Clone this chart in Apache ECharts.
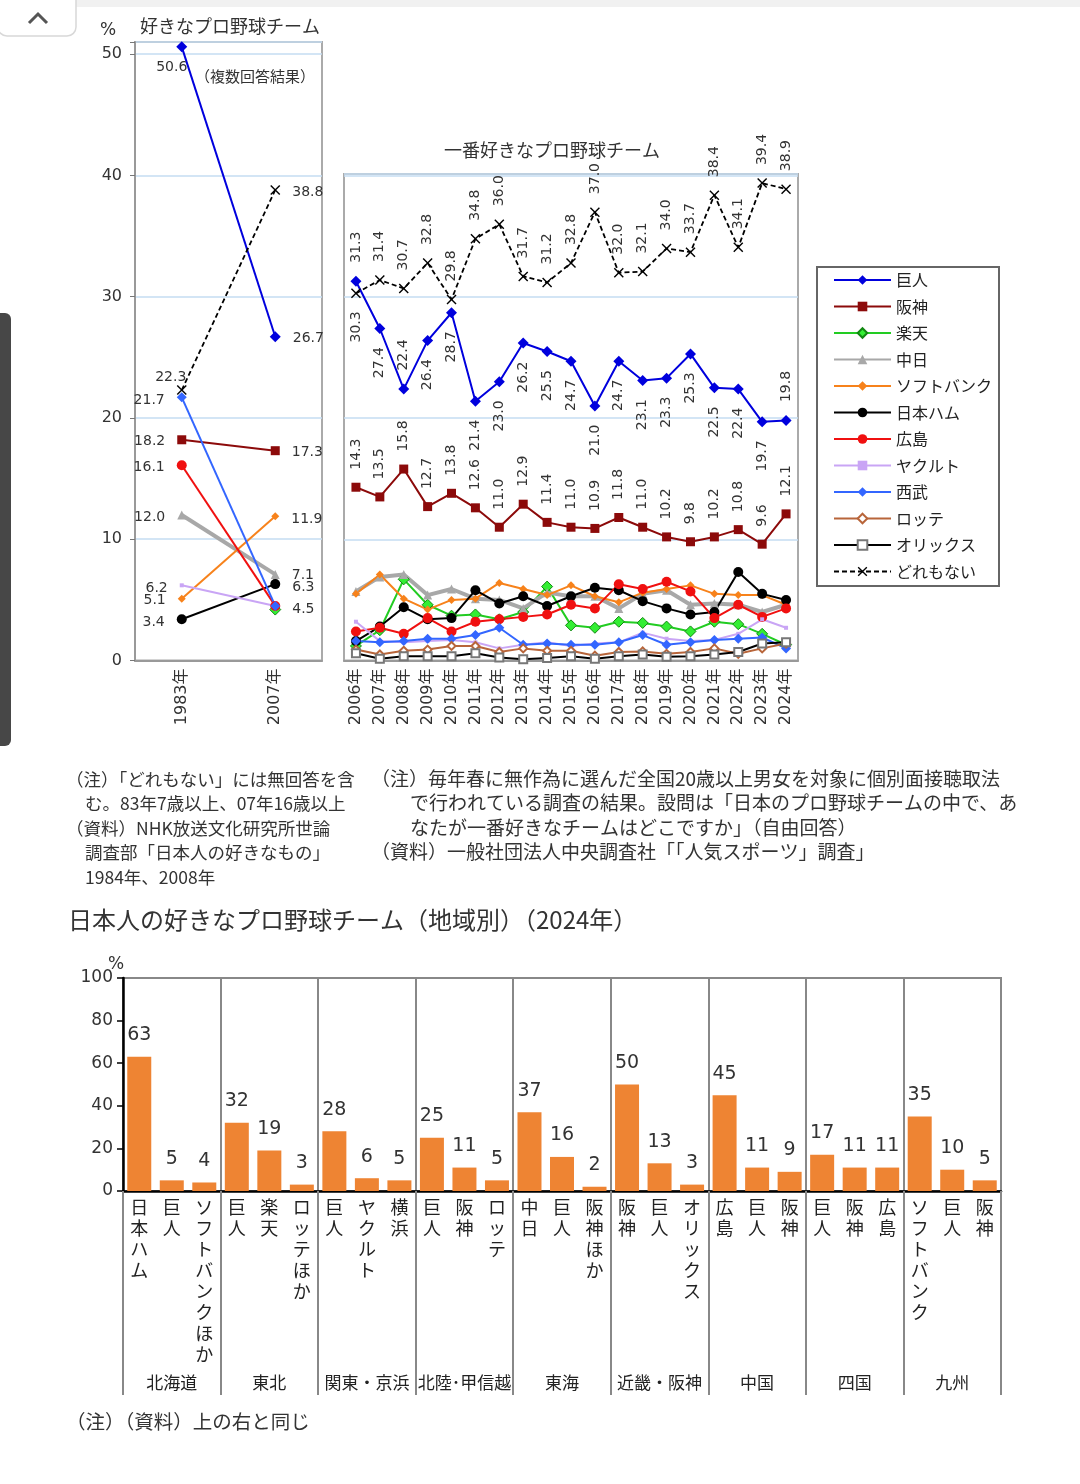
<!DOCTYPE html>
<html><head><meta charset="utf-8">
<script src="https://cdn.jsdelivr.net/npm/echarts@6/dist/echarts.min.js"></script>
<style>html,body{margin:0;padding:0;background:#fff;}#c{width:1080px;height:1484px;}</style>
</head><body><div id="c"></div>
<script>
// ---------- DATA ----------
const yearsLeft = ['1983年', '2007年'];
const yearsRight = ['2006年','2007年','2008年','2009年','2010年','2011年','2012年','2013年','2014年','2015年','2016年','2017年','2018年','2019年','2020年','2021年','2022年','2023年','2024年'];
const teams = ['巨人','阪神','楽天','中日','ソフトバンク','日本ハム','広島','ヤクルト','西武','ロッテ','オリックス','どれもない'];
const leftTicks = [0, 10, 20, 30, 40, 50];

// 好きなプロ野球チーム（複数回答） 1983, 2007
const L_giants   = [50.6, 26.7];
const L_tigers   = [18.2, 17.3];
const L_eagles   = [null, 4.2];
const L_dragons  = [12.0, 7.1];
const L_hawks    = [5.1, 11.9];
const L_fighters = [3.4, 6.3];
const L_carp     = [16.1, 4.5];
const L_swallows = [6.2, 4.5];
const L_lions    = [21.7, 4.5];
const L_none     = [22.3, 38.8];

// 一番好きなプロ野球チーム 2006-2024
const R_giants    = [31.3,27.4,22.4,26.4,28.7,21.4,23.0,26.2,25.5,24.7,21.0,24.7,23.1,23.3,25.3,22.5,22.4,19.7,19.8];
const R_tigers    = [14.3,13.5,15.8,12.7,13.8,12.6,11.0,12.9,11.4,11.0,10.9,11.8,11.0,10.2,9.8,10.2,10.8,9.6,12.1];
const R_eagles    = [1.2,2.5,6.7,4.6,3.7,3.8,3.4,4.0,6.1,2.9,2.7,3.2,3.1,2.8,2.4,3.2,3.0,2.2,1.3];
const R_dragons   = [5.7,6.9,7.1,5.4,5.9,5.1,5.0,4.3,5.6,5.3,5.3,4.3,5.5,5.8,4.6,4.7,4.6,4.0,4.6];
const R_hawks     = [5.5,7.1,5.1,4.2,5.0,5.1,6.4,5.9,5.4,6.2,5.3,4.8,5.6,5.9,6.2,5.5,5.4,5.4,4.6];
const R_fighters  = [1.6,2.8,4.4,3.4,3.5,5.8,4.7,5.3,4.5,5.3,6.0,5.8,4.9,4.3,3.8,4.0,7.3,5.5,5.0];
const R_carp      = [2.4,2.7,2.2,3.5,2.4,3.2,3.4,3.6,3.8,4.6,4.3,6.3,5.9,6.5,5.7,3.5,4.6,3.6,4.3];
const R_swallows  = [3.2,1.6,1.5,1.6,1.7,1.5,1.0,1.3,1.5,1.2,1.4,1.5,2.3,1.8,1.6,1.7,2.2,3.4,2.7];
const R_lions     = [1.6,1.5,1.6,1.8,1.8,2.1,2.7,1.3,1.4,1.3,1.3,1.5,2.1,1.3,1.5,1.7,1.8,1.9,1.0];
const R_marines   = [0.9,0.5,0.8,0.9,1.2,1.2,0.7,1.0,0.8,0.8,0.4,0.7,0.75,0.55,0.7,1.0,0.55,1.0,1.4];
const R_buffaloes = [0.6,0.15,0.35,0.35,0.35,0.6,0.25,0.1,0.2,0.35,0.15,0.35,0.5,0.3,0.35,0.5,0.7,1.4,1.5];
const R_none      = [30.3,31.4,30.7,32.8,29.8,34.8,36.0,31.7,31.2,32.8,37.0,32.0,32.1,34.0,33.7,38.4,34.1,39.4,38.9];

// 地域別 (2024年)
const regions = ['北海道','東北','関東・京浜','北陸･甲信越','東海','近畿・阪神','中国','四国','九州'];
const barTeams = ['日本ハム','巨人','ソフトバンクほか','巨人','楽天','ロッテほか','巨人','ヤクルト','横浜','巨人','阪神','ロッテ','中日','巨人','阪神ほか','阪神','巨人','オリックス','広島','巨人','阪神','巨人','阪神','広島','ソフトバンク','巨人','阪神'];
const barValues = [63,5,4,32,19,3,28,6,5,25,11,5,37,16,2,50,13,3,45,11,9,17,11,11,35,10,5];
const barTicks = [0, 20, 40, 60, 80, 100];

// ---------- STYLES ----------
const NUM = "'DejaVu Sans', 'Noto Sans CJK JP', sans-serif";
const JP = "'Noto Sans CJK JP', sans-serif";
const XSYM = 'path://M1,0L5,4L9,0L10,1L6,5L10,9L9,10L5,6L1,10L0,9L4,5L0,1Z';
const ST = {
  '巨人':        {line:'#0000dd', fill:'#0000dd', symbol:'diamond', size:11, width:2},
  '阪神':        {line:'#8c0a0a', fill:'#8c0a0a', symbol:'rect', size:9, width:2},
  '楽天':        {line:'#22cc22', fill:'#33ee33', border:'#118811', symbol:'diamond', size:11, width:2},
  '中日':        {line:'#a8a8a8', fill:'#a8a8a8', symbol:'triangle', size:9, width:4},
  'ソフトバンク': {line:'#f7821b', fill:'#f7821b', symbol:'diamond', size:8, width:2},
  '日本ハム':    {line:'#000000', fill:'#000000', symbol:'circle', size:10, width:2},
  '広島':        {line:'#f01010', fill:'#f01010', symbol:'circle', size:10, width:2},
  'ヤクルト':    {line:'#c9a5f5', fill:'#c9a5f5', symbol:'rect', size:4, width:2},
  '西武':        {line:'#3366ff', fill:'#3366ff', symbol:'diamond', size:10, width:2},
  'ロッテ':      {line:'#b8653a', fill:'#b8653a', symbol:'emptyDiamond', size:8, width:2},
  'オリックス':  {line:'#000000', fill:'#777777', symbol:'emptyRect', size:8, width:2},
  'どれもない':  {line:'#000000', fill:'#000000', symbol:XSYM, size:10, width:1.8, dash:[5,3]}
};
const fmt1 = p => Number(p.value).toFixed(1);
const LBL = {show:true, fontSize:14, color:'#333', fontFamily:NUM, formatter:fmt1};
const TOPV = Object.assign({}, LBL, {position:'top', rotate:90, align:'left', verticalAlign:'middle', distance:13});
const BOTV = Object.assign({}, LBL, {position:'bottom', rotate:90, align:'right', verticalAlign:'middle', distance:13});

function lineSeries(name, data, grid) {
  const s = ST[name];
  return {
    name, type:'line', xAxisIndex:grid, yAxisIndex:grid, data,
    symbol:s.symbol, symbolSize:s.size, showAllSymbol:true, connectNulls:false,
    lineStyle:{color:s.line, width:s.width, type:s.dash || 'solid'},
    itemStyle:{color:s.fill, borderColor:s.border || s.fill, borderWidth: s.border ? 1 : (s.symbol.indexOf('empty')===0 ? 1.5 : 0)},
    z: name==='巨人' || name==='どれもない' ? 5 : 3
  };
}
// label placement helpers (style only)
function withLabels(arr, specFn) {
  return arr.map((v, i) => {
    const spec = specFn(i);
    if (v === null || !spec) return v;
    return {value:v, label:spec};
  });
}
const L_LEFT = (dy) => Object.assign({}, LBL, {position:'left', distance:12, offset:[0, dy]});
const L_RIGHT = (dy) => Object.assign({}, LBL, {position:'right', distance:12, offset:[0, dy]});

const leftSeries = [
  lineSeries('巨人', withLabels(L_giants, i => i===0 ? Object.assign({}, LBL, {position:'bottom', distance:8, offset:[-10,0]}) : L_RIGHT(2)), 0),
  lineSeries('阪神', withLabels(L_tigers, i => i===0 ? L_LEFT(2) : L_RIGHT(2)), 0),
  lineSeries('楽天', L_eagles, 0),
  lineSeries('中日', withLabels(L_dragons, i => i===0 ? L_LEFT(2) : L_RIGHT(1)), 0),
  lineSeries('ソフトバンク', withLabels(L_hawks, i => i===0 ? L_LEFT(2) : L_RIGHT(3)), 0),
  lineSeries('日本ハム', withLabels(L_fighters, i => i===0 ? L_LEFT(3) : L_RIGHT(3)), 0),
  lineSeries('広島', withLabels(L_carp, i => i===0 ? L_LEFT(2) : null), 0),
  lineSeries('ヤクルト', withLabels(L_swallows, i => i===0 ? L_LEFT(3) : null), 0),
  lineSeries('西武', withLabels(L_lions, i => i===0 ? L_LEFT(3) : L_RIGHT(3)), 0),
  lineSeries('どれもない', withLabels(L_none, i => i===0 ? Object.assign({}, LBL, {position:'top', distance:1, offset:[-11,0]}) : L_RIGHT(2)), 0)
];
const giantsTopIdx = [0, 2, 18];
const rightSeries = [
  lineSeries('阪神', withLabels(R_tigers, () => TOPV), 1),
  lineSeries('楽天', R_eagles, 1),
  lineSeries('中日', R_dragons, 1),
  lineSeries('ソフトバンク', R_hawks, 1),
  lineSeries('日本ハム', R_fighters, 1),
  lineSeries('広島', R_carp, 1),
  lineSeries('ヤクルト', R_swallows, 1),
  lineSeries('西武', R_lions, 1),
  lineSeries('ロッテ', R_marines, 1),
  lineSeries('オリックス', R_buffaloes, 1),
  lineSeries('どれもない', withLabels(R_none, i => i===0 ? BOTV : TOPV), 1),
  lineSeries('巨人', withLabels(R_giants, i => giantsTopIdx.indexOf(i) >= 0 ? TOPV : BOTV), 1)
];

const axisLblNum = {fontSize:16, color:'#333', fontFamily:NUM};
const blueSplit = {show:true, lineStyle:{color:'#c5dcf2', width:1.5}};

const notesLeft = [
  ['（注）「どれもない」には無回答を含', 66, 779],
  ['む。83年7歳以上、07年16歳以上', 85, 803],
  ['（資料）NHK放送文化研究所世論', 66, 828],
  ['調査部「日本人の好きなもの」', 85, 852],
  ['1984年、2008年', 85, 877]
];
const notesRight = [
  ['（注）毎年春に無作為に選んだ全国20歳以上男女を対象に個別面接聴取法', 371, 779],
  ['で行われている調査の結果。設問は「日本のプロ野球チームの中で、あ', 410, 803],
  ['なたが一番好きなチームはどこですか」（自由回答）', 410, 828],
  ['（資料）一般社団法人中央調査社「「人気スポーツ」調査」', 371, 852]
];
function txt(t, x, y, size, font, extra) {
  return Object.assign({type:'text', silent:true, style:{text:t, x, y, fill:'#333', font:size+'px '+(font||JP), verticalAlign:'middle', align:'left'}}, extra||{});
}

const graphics = [
  {type:'rect', silent:true, shape:{x:0, y:0, width:1080, height:7}, style:{fill:'#f1f1f1'}},
  {type:'rect', silent:true, shape:{x:-2, y:-10, width:78, height:46, r:9}, style:{fill:'#fff', stroke:'#d8d8d8', lineWidth:1.5}},
  {type:'polyline', silent:true, shape:{points:[[29,23],[38,14],[47,23]]}, style:{stroke:'#555', lineWidth:3, fill:null}},
  {type:'rect', silent:true, shape:{x:-6, y:313, width:17, height:433, r:6}, style:{fill:'#474747'}},
  {type:'rect', silent:true, shape:{x:817, y:267, width:182, height:319}, style:{fill:'#fff', stroke:'#666', lineWidth:2}, z:-1},
  txt('%', 100, 31, 17, NUM),
  txt('好きなプロ野球チーム', 140, 26, 18),
  txt('（複数回答結果）', 195, 76, 15),
  txt('一番好きなプロ野球チーム', 444, 150, 18),
  txt('日本人の好きなプロ野球チーム（地域別）（2024年）', 68, 920, 24),
  txt('%', 108, 965, 17, NUM),
  txt('（注）（資料）上の右と同じ', 66, 1422, 19.5)
];
notesLeft.forEach(n => graphics.push(txt(n[0], n[1], n[2], 17.5)));
notesRight.forEach(n => graphics.push(txt(n[0], n[1], n[2], 19)));

const option = {
  animation:false,
  backgroundColor:'#fff',
  textStyle:{fontFamily:NUM},
  legend:{
    orient:'vertical', left:833, top:272, padding:0, itemWidth:57, itemHeight:12, itemGap:10.5,
    selectedMode:false, data:teams,
    textStyle:{fontSize:16, lineHeight:16, color:'#222', fontFamily:JP}
  },
  grid:[
    {left:135, top:42, width:187, height:618.5, show:true, borderColor:'#aaa', borderWidth:2},
    {left:344, top:174, width:454, height:486.5, show:true, borderColor:'#aaa', borderWidth:2},
    {left:123, top:978, width:878, height:213, show:true, borderColor:'#888', borderWidth:2}
  ],
  xAxis:[
    {gridIndex:0, type:'category', data:yearsLeft,
      axisLine:{lineStyle:{color:'#999', width:2}}, axisTick:{inside:true, length:5, lineStyle:{color:'#999'}},
      axisLabel:Object.assign({rotate:90, margin:8, interval:0}, axisLblNum)},
    {gridIndex:1, type:'category', data:yearsRight,
      axisLine:{lineStyle:{color:'#999', width:2}}, axisTick:{inside:true, length:5, lineStyle:{color:'#999'}},
      axisLabel:Object.assign({rotate:90, margin:8, interval:0}, axisLblNum)},
    {gridIndex:2, type:'category', data:barTeams,
      axisLine:{lineStyle:{color:'#000', width:2.5}}, axisTick:{show:false},
      axisLabel:{interval:0, formatter:v => v.split('').join('\n'), fontSize:18, lineHeight:21, color:'#222', margin:6, fontFamily:JP, verticalAlign:'top'}},
    {gridIndex:2, type:'category', data:regions, position:'bottom',
      axisLine:{show:false},
      axisTick:{show:true, interval:0, length:204, lineStyle:{color:'#888', width:2}},
      splitLine:{show:true, interval:0, lineStyle:{color:'#888', width:2}},
      axisLabel:{interval:0, margin:183, fontSize:17, color:'#222', fontFamily:JP}}
  ],
  yAxis:[
    {gridIndex:0, type:'value', min:leftTicks[0], max:51, interval:10,
      axisLine:{show:true, lineStyle:{color:'#999', width:2}},
      axisTick:{show:true, length:5, lineStyle:{color:'#777'}},
      axisLabel:Object.assign({margin:13, formatter:v => leftTicks.indexOf(v) >= 0 ? String(v) : ''}, axisLblNum),
      splitLine:blueSplit},
    {gridIndex:1, type:'value', min:0, max:40.15, interval:10,
      axisLine:{show:false}, axisTick:{show:false}, axisLabel:{show:false}, splitLine:blueSplit},
    {gridIndex:2, type:'value', min:barTicks[0], max:100, interval:20,
      axisLine:{show:true, lineStyle:{color:'#000', width:2.5}},
      axisTick:{show:true, length:6, lineStyle:{color:'#000', width:1.5}},
      axisLabel:{fontSize:17, color:'#333', margin:10, fontFamily:NUM},
      splitLine:{show:false}}
  ],
  series:[].concat(leftSeries, rightSeries, [{
    name:'地域別', type:'bar', xAxisIndex:2, yAxisIndex:2, data:barValues, barWidth:24,
    itemStyle:{color:'#ee8433'},
    label:{show:true, position:'top', distance:12, fontSize:19, color:'#333', fontFamily:NUM}
  }]),
  graphic:graphics
};
const chart = echarts.init(document.getElementById('c'), null, {renderer:'canvas'});
chart.setOption(option);
</script></body></html>
